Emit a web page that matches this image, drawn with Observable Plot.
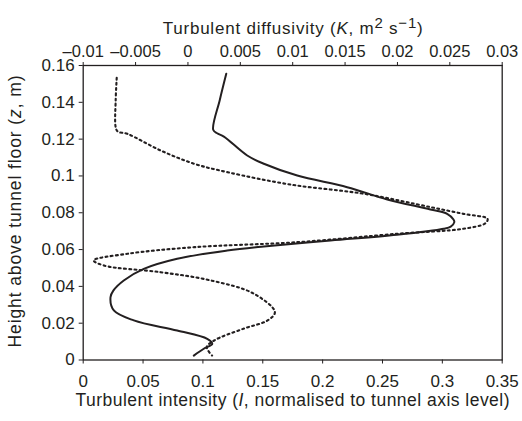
<!DOCTYPE html>
<html><head><meta charset="utf-8">
<script src="https://cdn.jsdelivr.net/npm/d3@7"></script>
<script src="https://cdn.jsdelivr.net/npm/@observablehq/plot@0.6"></script>
<style>body{margin:0;background:#fff} svg{display:block}</style>
</head><body><div id="chart"></div>
<script>
// Tick values
const intensityTicks = [0, 0.05, 0.1, 0.15, 0.2, 0.25, 0.3, 0.35];
const diffusivityTicks = [-0.01, -0.005, 0, 0.005, 0.01, 0.015, 0.02, 0.025, 0.03];
const heightTicks = [0, 0.02, 0.04, 0.06, 0.08, 0.1, 0.12, 0.14, 0.16];

// Solid curve: turbulent intensity I vs height z (path order, top to bottom)
const solidI = [0.1195, 0.1141, 0.1086, 0.1119, 0.1175, 0.137, 0.1509, 0.1788, 0.2205, 0.254, 0.290, 0.304, 0.3093, 0.310, 0.307, 0.301, 0.262, 0.2066, 0.1509, 0.1203, 0.0785, 0.0506, 0.0339, 0.0253, 0.0228, 0.0256, 0.0423, 0.0785, 0.1036, 0.1078, 0.1007, 0.0924];
const solidZ = [0.1555, 0.1413, 0.1251, 0.1232, 0.1214, 0.1111, 0.1066, 0.1002, 0.0939, 0.0872, 0.0818, 0.0794, 0.0763, 0.0749, 0.0725, 0.0713, 0.068, 0.0649, 0.0617, 0.0595, 0.055, 0.0495, 0.0432, 0.0378, 0.0341, 0.0269, 0.0215, 0.016, 0.0115, 0.0088, 0.0061, 0.0024];

// Dotted curve: turbulent diffusivity K vs height z (path order, top to bottom)
const dottedK = [-0.0068, -0.0069, -0.0069, -0.0067, -0.0058, -0.0026, 0.0006, 0.0038, 0.0098, 0.0168, 0.0232, 0.0263, 0.0286, 0.0284, 0.0263, 0.0200, 0.0104, 0.0006, -0.0058, -0.0090, -0.0080, -0.0026, 0.0022, 0.0063, 0.0083, 0.0076, 0.0053, 0.0025, 0.0018, 0.0023];
const dottedZ = [0.1533, 0.141, 0.1265, 0.1241, 0.1229, 0.1138, 0.1066, 0.102, 0.0953, 0.0903, 0.083, 0.0794, 0.0767, 0.0743, 0.0713, 0.0686, 0.064, 0.0613, 0.0577, 0.0541, 0.0513, 0.0477, 0.0432, 0.036, 0.026, 0.0215, 0.017, 0.0106, 0.007, 0.0024];

const titleTop = "Turbulent diffusivity (K, m2 s\u22121)";
const titleBottom = "Turbulent intensity (I, normalised to tunnel axis level)";
const titleLeft = "Height above tunnel floor (z, m)";

// Map the secondary (top) axis K onto the primary x scale I
const kToI = d3.scaleLinear().domain([-0.01, 0.03]).range([0, 0.35]);
const fmt = d => { const r = +d.toFixed(4); return r < 0 ? "\u2013" + String(-r) : String(r === 0 ? 0 : r); };

const solid = solidI.map((I, i) => ({I, z: solidZ[i]}));
const dotted = dottedK.map((K, i) => ({K, z: dottedZ[i]}));

const ink = "#231f20";
const chart = Plot.plot({
  width: 522, height: 421,
  marginTop: 65, marginBottom: 61.5, marginLeft: 82.7, marginRight: 20.3,
  style: {fontFamily: "'Liberation Sans', Arial, Helvetica, sans-serif", fontSize: "17px", color: ink, background: "#fff"},
  x: {domain: [0, 0.35]},
  y: {domain: [0, 0.16]},
  marks: [
    Plot.axisX({anchor: "bottom", ticks: intensityTicks, tickFormat: fmt, tickSize: 4, tickPadding: 11, label: null}),
    Plot.axisX({anchor: "top", ticks: diffusivityTicks.map(k => kToI(k)), tickFormat: i => fmt(kToI.invert(i)), tickSize: 4, tickPadding: 4.4, fontSize: 16.5, label: null}),
    Plot.axisY({ticks: heightTicks, tickFormat: fmt, tickSize: 4, tickPadding: 4.5, label: null}),
    Plot.frame({stroke: ink, strokeWidth: 1.3}),
    Plot.line(dotted, {x: d => kToI(d.K), y: "z", curve: "catmull-rom", stroke: ink, strokeWidth: 2.1, strokeDasharray: "1.9,3.3"}),
    Plot.line(solid, {x: "I", y: "z", curve: "catmull-rom", stroke: ink, strokeWidth: 2}),
    Plot.text([titleTop], {text: d => d, frameAnchor: "top-left", textAnchor: "start", dx: 79.5, dy: -44, fontSize: 17}),
    Plot.text([titleBottom], {text: d => d, frameAnchor: "bottom-left", textAnchor: "start", dx: -7.7, dy: 46, fontSize: 17.5}),
    Plot.text([titleLeft], {text: d => d, frameAnchor: "bottom-left", textAnchor: "start", rotate: -90, dx: -61.7, dy: -12.5, fontSize: 17.5})
  ]
});

function rich(svg, plain, parts, length) {
  d3.select(svg).selectAll("text").filter(function () { return this.textContent === plain; }).each(function () {
    const t = d3.select(this);
    t.text(null);
    for (const p of parts) {
      const s = t.append("tspan").text(p.t);
      if (p.i) s.attr("font-style", "italic");
      if (p.dy) s.attr("dy", p.dy);
      if (p.fs) s.attr("font-size", p.fs);
    }
    if (length) t.attr("textLength", length).attr("lengthAdjust", "spacing");
  });
}
rich(chart, titleTop, [
  {t: "Turbulent diffusivity ("}, {t: "K", i: true}, {t: ", m"},
  {t: "2", dy: -6, fs: 15}, {t: " s", dy: 6}, {t: "\u22121", dy: -6, fs: 15}, {t: ")", dy: 6}
], 260);
rich(chart, titleBottom, [{t: "Turbulent intensity ("}, {t: "I", i: true}, {t: ", normalised to tunnel axis level)"}], 434);
rich(chart, titleLeft, [{t: "Height above tunnel floor ("}, {t: "z", i: true}, {t: ", m)"}], 272);

document.getElementById("chart").append(chart);
</script>
</body></html>
